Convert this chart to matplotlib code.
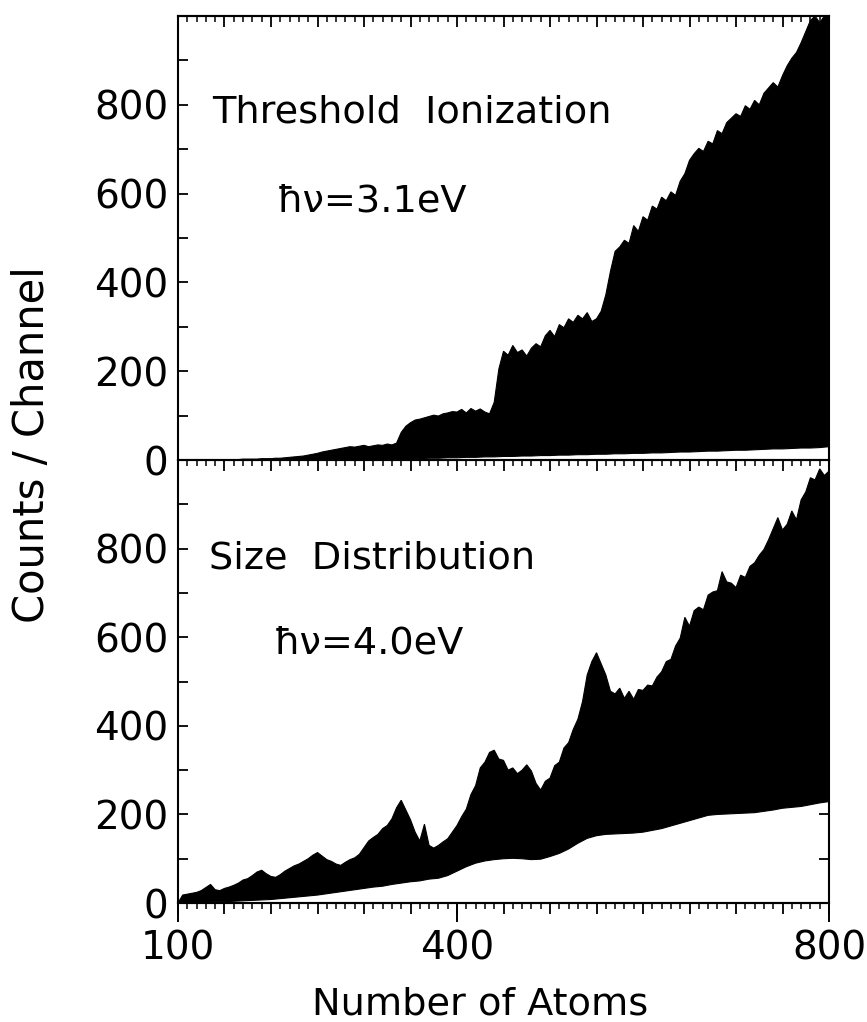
import numpy as np
import matplotlib
matplotlib.use('Agg')
import matplotlib.pyplot as plt
from matplotlib.ticker import MultipleLocator, FixedLocator, NullLocator

plt.rcParams['font.family'] = ['DejaVu Sans']

# channel grids (number of atoms)
x_hi = np.arange(100, 801, 5)
x_lo = np.arange(100, 801, 10)

# threshold ionization, hv = 3.1 eV: upper and lower edge of the noisy trace
thr_hi = [0, 0, 0, 0, 0, 0, 0, 0, 0, 0, 1, 1, 1, 1, 2, 2, 2, 2, 3, 3,
          3, 4, 4, 5, 6, 7, 8, 9, 11, 13, 15, 18, 20, 22, 24, 26, 28, 30, 29, 31,
          33, 30, 32, 34, 33, 36, 34, 38, 62, 76, 84, 90, 92, 95, 98, 101, 99, 104, 106, 109,
          108, 114, 106, 116, 110, 115, 108, 104, 130, 205, 245, 236, 258, 242, 248, 234, 252, 262, 255, 280,
          292, 278, 305, 298, 318, 310, 326, 318, 332, 312, 318, 335, 372, 425, 470, 480, 495, 488, 528, 515,
          548, 540, 572, 565, 592, 584, 604, 596, 628, 645, 675, 690, 702, 695, 718, 712, 742, 735, 760, 770,
          780, 774, 798, 790, 810, 800, 826, 838, 850, 840, 866, 888, 905, 918, 940, 965, 990, 1000, 985, 1000,
          1000]
thr_lo = [0, 0, 0, 0, 0, 0, 0, 0, 0, 0,
          0, 0, 0, 0, 0, 0, 0, 0, 0, 0,
          0, 0, 0, 0, 1, 2, 3, 4, 4, 5,
          5, 6, 6, 7, 7, 8, 8, 9, 9, 10,
          10, 11, 11, 12, 12, 13, 13, 14, 14, 15,
          15, 16, 16, 17, 18, 18, 19, 20, 20, 21,
          22, 22, 23, 24, 25, 25, 26, 27, 27, 28,
          30]

# size distribution, hv = 4.0 eV
size_hi = [0, 18, 20, 22, 24, 28, 35, 42, 30, 28, 33, 36, 40, 45, 52, 55, 62, 70, 74, 66,
           60, 58, 64, 72, 78, 84, 88, 94, 100, 108, 114, 106, 98, 94, 88, 85, 92, 98, 102, 110,
           125, 140, 148, 155, 168, 175, 190, 215, 232, 210, 188, 160, 140, 178, 130, 124, 130, 138, 145, 160,
           175, 195, 212, 245, 265, 305, 318, 340, 345, 325, 322, 300, 305, 292, 300, 312, 298, 270, 255, 275,
           282, 310, 318, 350, 362, 392, 415, 455, 515, 545, 565, 540, 515, 478, 472, 485, 462, 478, 460, 482,
           480, 492, 490, 510, 522, 545, 550, 580, 598, 645, 625, 660, 668, 662, 695, 702, 705, 748, 725, 722,
           712, 740, 735, 760, 768, 785, 798, 820, 845, 870, 842, 855, 885, 865, 910, 928, 960, 955, 980, 965,
           975]
size_lo = [0, 1, 2, 2, 3, 3, 4, 5, 6, 7,
           8, 10, 12, 14, 16, 18, 21, 24, 27, 30,
           33, 36, 38, 42, 45, 48, 50, 54, 56, 62,
           72, 82, 90, 95, 98, 100, 101, 100, 98, 99,
           105, 112, 122, 135, 146, 152, 155, 156, 157, 158,
           160, 164, 168, 174, 180, 186, 192, 198, 200, 201,
           202, 203, 204, 207, 210, 214, 216, 218, 222, 226,
           229]

y_major = [0, 200, 400, 600, 800]
x_labels = [100, 400, 800]

fig = plt.figure(figsize=(8.67, 10.22), dpi=100)
ax_top = fig.add_axes([0.2053, 0.5499, 0.7509, 0.4344])
ax_bot = fig.add_axes([0.2053, 0.1164, 0.7509, 0.4335])
ax_bot.patch.set_visible(False)


def draw_trace(ax, hi, lo):
    xs = np.concatenate([x_hi, x_lo[::-1]])
    ys = np.concatenate([hi, lo[::-1]])
    ax.fill(xs, ys, color='black', lw=0.8, zorder=2)


def style_panel(ax):
    ax.set_xlim(100, 800)
    ax.set_ylim(0, 1000)
    for s in ax.spines.values():
        s.set_linewidth(1.5)
    ax.yaxis.set_major_locator(FixedLocator(y_major))
    ax.yaxis.set_minor_locator(MultipleLocator(100))
    ax.tick_params(axis='y', which='both', left=True, right=True, direction='in',
                   length=7.5, width=1.3, labelsize=28, pad=7)
    ax.xaxis.set_major_locator(MultipleLocator(50))
    ax.xaxis.set_minor_locator(MultipleLocator(10))
    ax.tick_params(axis='x', which='major', length=8, width=1.3)
    ax.tick_params(axis='x', which='minor', length=4.3, width=1.1)


draw_trace(ax_top, thr_hi, thr_lo)
draw_trace(ax_bot, size_hi, size_lo)
style_panel(ax_top)
style_panel(ax_bot)

# top panel: ticks hanging down from both horizontal edges
ax_top.tick_params(axis='x', which='both', bottom=True, top=False, direction='out',
                   labelbottom=False)
sec_top = ax_top.secondary_xaxis('top')
sec_top.xaxis.set_major_locator(MultipleLocator(50))
sec_top.xaxis.set_minor_locator(MultipleLocator(10))
sec_top.tick_params(axis='x', which='major', direction='in', length=8, width=1.3, labeltop=False)
sec_top.tick_params(axis='x', which='minor', direction='in', length=4.3, width=1.1)
sec_top.spines['top'].set_linewidth(1.5)

# bottom panel
ax_bot.tick_params(axis='x', which='both', bottom=True, top=False, direction='out',
                   labelbottom=False)
sec_bot = ax_bot.secondary_xaxis('bottom')
sec_bot.set_xticks(x_labels)
sec_bot.set_xticklabels([str(v) for v in x_labels])
sec_bot.xaxis.set_minor_locator(NullLocator())
sec_bot.tick_params(axis='x', which='major', direction='out', length=13.7, width=1.4,
                    labelsize=28, pad=5)
sec_bot.spines['bottom'].set_linewidth(1.5)

ax_top.text(0.052, 0.761, 'Threshold  Ionization', transform=ax_top.transAxes,
            fontsize=27.5, va='baseline', ha='left')
ax_top.text(0.152, 0.559, 'ħν=3.1eV', transform=ax_top.transAxes,
            fontsize=27.5, va='baseline', ha='left')
ax_bot.text(0.048, 0.756, 'Size  Distribution', transform=ax_bot.transAxes,
            fontsize=27.5, va='baseline', ha='left')
ax_bot.text(0.147, 0.564, 'ħν=4.0eV', transform=ax_bot.transAxes,
            fontsize=27.5, va='baseline', ha='left')

fig.text(32 / 867, 1 - 445 / 1022, 'Counts / Channel', rotation=90,
         ha='center', va='center', fontsize=30)
fig.text(480 / 867, 8 / 1022, 'Number of Atoms', ha='center', va='baseline',
         fontsize=27.5)

fig.savefig('out.png', dpi=100)
